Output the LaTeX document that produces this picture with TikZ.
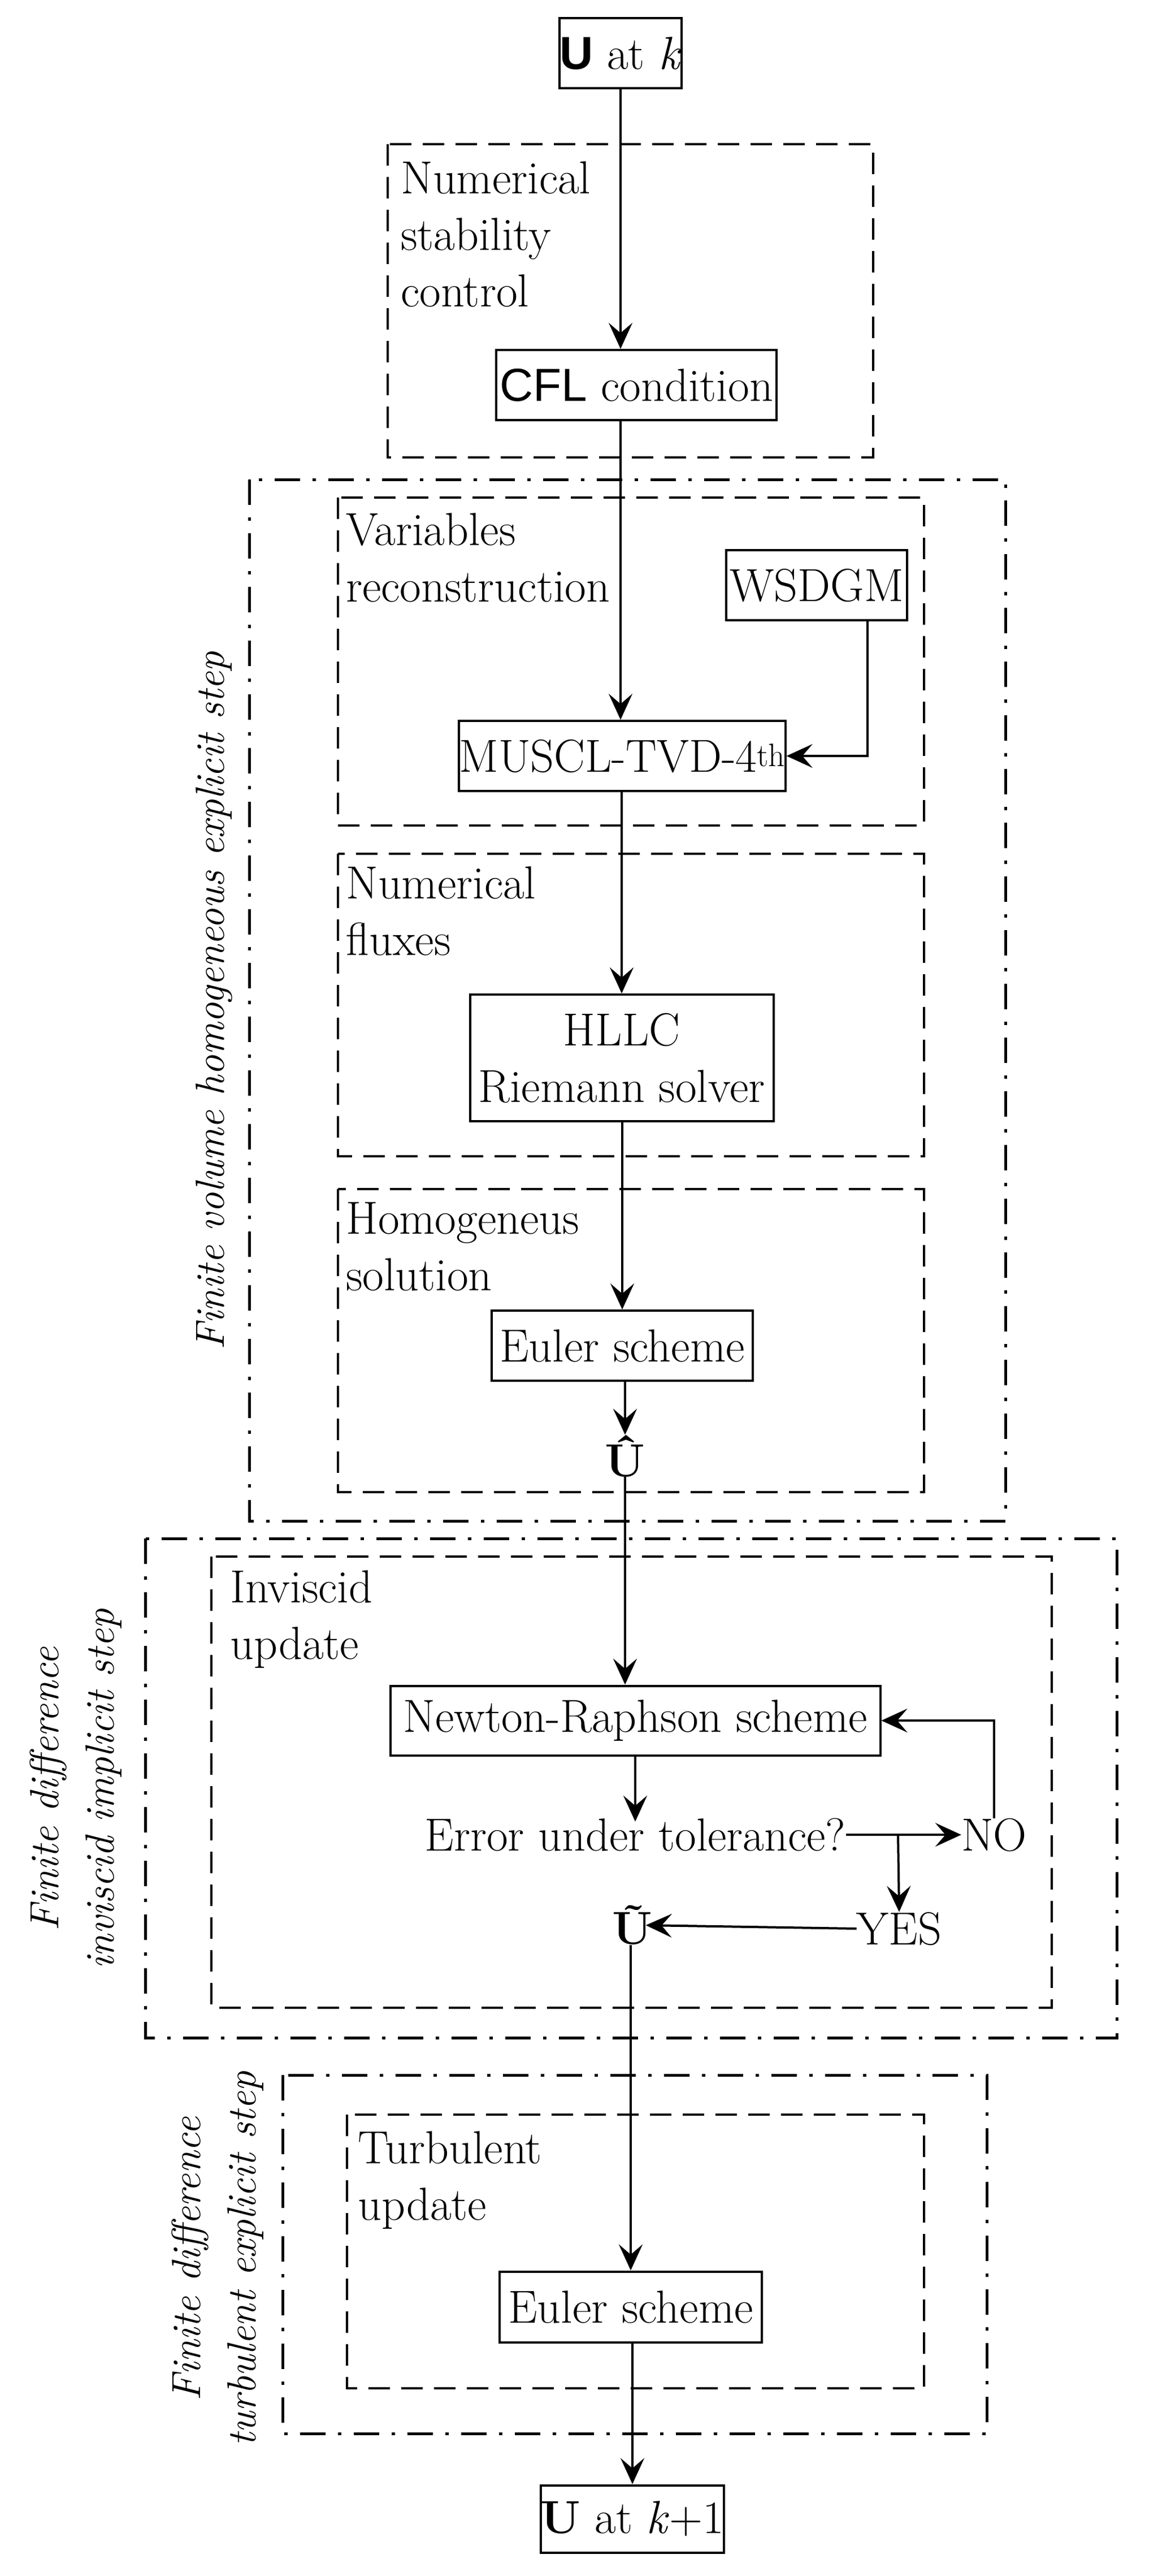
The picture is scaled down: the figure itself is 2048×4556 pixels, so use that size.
\documentclass[tikz,border=0pt]{standalone}
\usepackage{fontspec}
\newfontfamily\cflfont{Liberation Sans}
\usetikzlibrary{arrows.meta}
\begin{document}
\begin{tikzpicture}[x=1pt,y=-1pt,
  every node/.style={font=\fontsize{82}{100}\selectfont},
  box/.style={draw,line width=4pt,inner sep=0pt,align=center},
  lbl/.style={anchor=north west,align=left,inner sep=0pt},
  rot/.style={rotate=90,align=center,inner sep=0pt,font=\fontsize{72}{98}\selectfont\itshape},
  txt/.style={inner sep=0pt},
  arr/.style={line width=4pt,-{Stealth[length=46pt,width=42pt,inset=18pt]}},
  dsh/.style={line width=4pt,dash pattern=on 38pt off 20pt},
  dd/.style={line width=5pt,dash pattern=on 45pt off 22pt on 6pt off 22pt}]
\useasboundingbox (0,0) rectangle (2048,4556);
% frames
\draw[dsh] (686,255) rectangle (1545,809);
\draw[dd] (441,848) rectangle (1779,2690);
\draw[dsh] (598,880) rectangle (1635,1460);
\draw[dsh] (598,1510) rectangle (1635,2045);
\draw[dsh] (598,2103) rectangle (1635,2639);
\draw[dd] (257,2721) rectangle (1976,3604);
\draw[dsh] (374,2753) rectangle (1861,3551);
\draw[dd] (500,3670) rectangle (1746,4304);
\draw[dsh] (614,3740) rectangle (1635,4224);
% labels
\node[lbl] (l1) at (709,285) {Numerical\\stability\\control};
\node[lbl] (l2) at (612,907) {Variables\\reconstruction};
\node[lbl] (l3) at (612,1532) {Numerical\\fluxes};
\node[lbl] (l4) at (612,2126) {Homogeneus\\solution};
\node[lbl] (l5) at (407,2777) {Inviscid\\update};
\node[lbl] (l6) at (633,3769) {Turbulent\\update};
\node[rot] (r1) at (379,1770) {Finite volume homogeneous explicit step};
\node[rot] (r2) at (134,3164) {Finite difference\\inviscid implicit step};
\node[rot] (r3) at (385,3995) {Finite difference\\turbulent explicit step};
% boxes
\node[box,minimum width=211pt,minimum height=124pt] (uk) at (1098,94) {{\cflfont\bfseries U} at \textit{k}};
\node[box,minimum width=496pt,minimum height=124pt] (cfl) at (1126,681) {{\cflfont CFL} condition};
\node[box,minimum width=320pt,minimum height=124pt] (ws) at (1445,1035) {WSDGM};
\node[box,minimum width=571pt,minimum height=124pt] (mu) at (1101,1337) {MUSCL-TVD-4\textsuperscript{th}};
\node[box,minimum width=537pt,minimum height=224pt] (hl) at (1100,1871) {HLLC\\Riemann solver};
\node[box,minimum width=462pt,minimum height=124pt] (e1) at (1101,2380) {Euler scheme};
\node[txt] (uh) at (1106,2575) {\textbf{Û}};
\node[box,minimum width=867pt,minimum height=123pt] (nr) at (1124,3043) {Newton-Raphson scheme};
\node[txt] (er) at (1124,3245) {Error under tolerance?};
\node[txt] (no) at (1759,3245) {NO};
\node[txt] (yes) at (1591,3411) {YES};
\node[txt] (ut) at (1119,3405) {\textbf{Ũ}};
\node[box,minimum width=464pt,minimum height=125pt] (e2) at (1116,4080) {Euler scheme};
\node[box,minimum width=287pt,minimum height=119pt] (uk1) at (1119,4455) {\textbf{U} at \textit{k}+1};
% connectors
\draw[arr] (uk.south) -- (uk.south |- cfl.north);
\draw[arr] (cfl.south -| uk.south) -- (mu.north -| uk.south);
\draw[arr] ([xshift=90pt]ws.south) |- (mu.east);
\draw[arr] (mu.south -| hl.north) -- (hl.north);
\draw[arr] (hl.south -| e1.north) -- (e1.north);
\draw[arr] (e1.south -| uh.north) -- (uh.north);
\draw[arr] (uh.south) -- (uh.south |- nr.north);
\draw[arr] (nr.south) -- ([yshift=-6pt]er.north);
\draw[arr] (er.east) -- (no.west);
\draw[arr] (no.north) |- (nr.east);
\coordinate (br) at (1589,3245);
\draw[arr] (br) -- (yes.north);
\draw[arr] (yes.west) -- ([xshift=-12pt]ut.east);
\draw[arr] (ut.south -| e2.north) -- (e2.north);
\draw[arr] (e2.south -| uk1.north) -- (uk1.north);
\end{tikzpicture}
\end{document}
